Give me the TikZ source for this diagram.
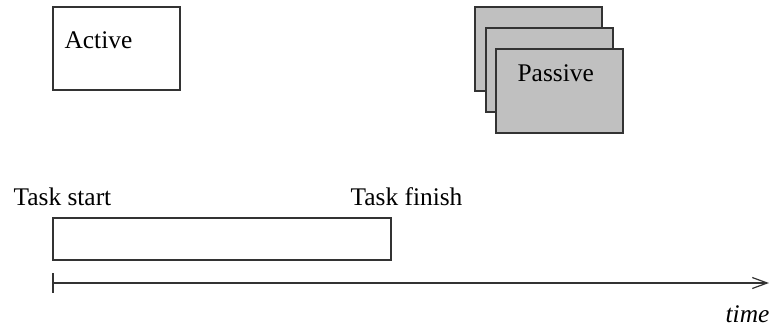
\documentclass[tikz,border=0pt]{standalone}
\usepackage{fontspec}
\setmainfont{Liberation Serif}
\usetikzlibrary{arrows.meta}
\definecolor{passivegray}{RGB}{192,192,192}
\begin{document}
\begin{tikzpicture}[x = 0.5pt, y = -0.5pt, line width = 0.6pt, font = \fontsize{12.7}{15}\selectfont,
		box/.style = {draw = black!80}]
				\useasboundingbox (0,0) rectangle (773,328);
				% active object
				\draw[box] (53,7) rectangle (180,90);
				\node[anchor = base west, inner sep = 0pt] (active) at (64,48) {Active};
				% stack of passive objects
				\foreach \dx/\dy in {0/0,11/21,21/42}{
					\draw[box, fill = passivegray] (475+\dx,7+\dy) rectangle (602+\dx,91+\dy);
				}
				\node[anchor = base west, inner sep = 0pt] (passive) at (517,81) {Passive};
				% task duration
				\node[anchor = base west, inner sep = 0pt] (start) at (13,205) {Task start};
				\node[anchor = base west, inner sep = 0pt] (finish) at (350,205) {Task finish};
				\draw[box] (53,218) rectangle (391,260);
				% time axis
				\coordinate (t0) at (53,283);
				\coordinate (t1) at (769,283);
				\draw[box] (53,273) -- (53,293);
				\draw[box, -{Straight Barb[length=7.5pt, width=5.5pt]}] (t0) -- (t1);
				\node[anchor = base east, inner sep = 0pt] (time) at (770,322) {\itshape time};
			\end{tikzpicture}
\end{document}
